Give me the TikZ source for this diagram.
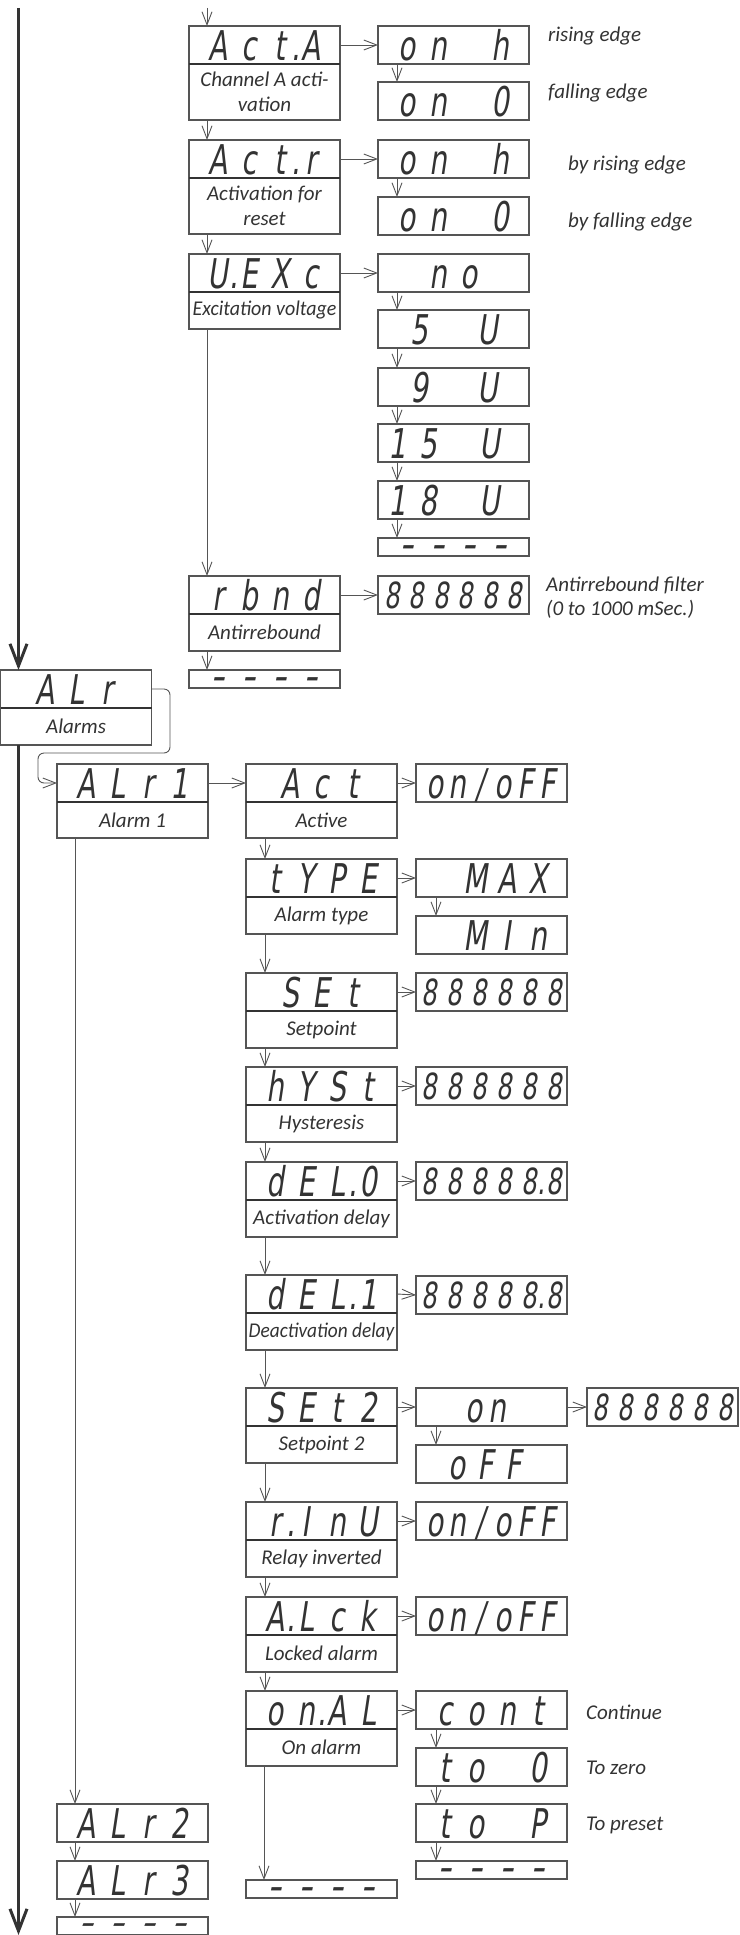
\documentclass[tikz,border=0pt]{standalone}
\usepackage{fontspec}
\setmainfont{Carlito}
\newfontfamily\segfont{DejaVu Sans}[FakeStretch=0.68,FakeSlant=0.15]
\usetikzlibrary{arrows.meta}
\definecolor{boxc}{HTML}{555555}
\definecolor{divc}{HTML}{333333}
\definecolor{arrc}{HTML}{555555}
\definecolor{segc}{HTML}{333333}
\definecolor{txtc}{HTML}{333333}
\newlength\segw
\def\segdx{1.4}
\makeatletter
\newcommand\segstr[1]{\seg@loop#1\relax}
\def\seg@loop#1{\ifx\relax#1\else\seg@char{#1}\expandafter\seg@loop\fi}
\def\seg@char#1{\if.#1\makebox[0pt][c]{.}\else\if*#1\hspace*{\segw}\else\if-#1\makebox[\segw][c]{\scalebox{\segdx}[1]{-}}\else\makebox[\segw][c]{#1}\fi\fi\fi}
\makeatother
% two-part box: [seg options]{name}{x}{y}{label height}{display text}{label}
\newcommand\dualbox[7][seg=31]{%
  \node[disp] (#2) at (#3,#4) {};
  \node[lab=#5pt] (#2l) at (#2.south west) {#7};
  \draw[divl] (#2.south west) -- (#2.south east);
  \node[#1] (#2t) at ([yshift=4pt]#2.south) {\segstr{#6}};}
% value box: [seg options]{name}{x}{y}{display text}
\newcommand\valbox[5][seg=31]{%
  \node[disp] (#2) at (#3,#4) {};
  \node[#1] (#2t) at ([yshift=4pt]#2.south) {\segstr{#5}};}
% end-of-list box: {name}{x}{y}
\newcommand\dshbox[3]{%
  \node[dashbox] (#1) at (#2,#3) {};
  \node[seg=31] (#1t) at ([yshift=-11pt]#1.center) {\segstr{----}};}
\newcommand\down[3]{\draw[arr] ([xshift=#3pt]#1.south west) -- ([xshift=#3pt]#2.north west);}
\begin{document}
\begin{tikzpicture}[x=1pt,y=-1pt,
  disp/.style={draw=boxc,line width=1.1pt,minimum width=151pt,minimum height=38pt,inner sep=0pt,outer sep=0pt,anchor=north west},
  dashbox/.style={disp,minimum height=18pt},
  lab/.style={draw=boxc,line width=1.1pt,minimum width=151pt,minimum height=#1,inner sep=0pt,outer sep=0pt,anchor=north west,font=\itshape\fontsize{21}{25}\selectfont,text=txtc,align=center},
  seg/.style={font=\segfont\fontsize{41}{41}\selectfont,text=segc,inner sep=0pt,anchor=base,execute at begin node={\setlength\segw{#1pt}}},
  segsix/.style={seg=#1,font=\segfont\fontsize{36}{36}\selectfont},
  segsmall/.style={seg=#1,font=\segfont\bfseries\fontsize{19}{19}\selectfont,execute at begin node={\def\segdx{2.7}}},
  note/.style={font=\itshape\fontsize{21}{24}\selectfont,text=txtc,inner sep=0pt,anchor=west,align=left},
  arr/.style={draw=arrc,line width=0.9pt,-{Straight Barb[length=13pt,width=10pt]}},
  mainarr/.style={draw=divc,line width=3pt,-{Straight Barb[length=22pt,width=17pt]}},
  divl/.style={draw=divc,line width=1.5pt}]
\useasboundingbox (0,0) rectangle (739,1935);
\coordinate (topin) at (207,8);
\coordinate (mtop) at (18.5,8);
\coordinate (mbot) at (18.5,1935);
% ---------- upper section
\dualbox{acta}{189}{26}{56}{Act.A}{Channel A acti-\\vation}
\dualbox{actr}{189}{140}{56}{Act.r}{Activation for\\reset}
\dualbox{uexc}{189}{254}{37}{U.EXc}{\scalebox{0.95}[1]{Excitation voltage}}
\dualbox{rbnd}{189}{576}{37}{rbnd}{Antirrebound}
\dshbox{dsha}{189}{670}
\valbox{ba}{378}{26}{on*h}
\valbox{bb}{378}{82}{on*0}
\valbox{bc}{378}{140}{on*h}
\valbox{bd}{378}{197}{on*0}
\valbox{be}{378}{254}{*no*}
\valbox[seg=34.5]{bf}{378}{310}{5*U}
\valbox[seg=34.5]{bg}{378}{368}{9*U}
\valbox[seg=31,xshift=-10pt]{bh}{378}{424}{15*U}
\valbox[seg=31,xshift=-10pt]{bi}{378}{481}{18*U}
\dshbox{bj}{378}{538}
\valbox[segsix=24.5,yshift=2pt]{bk}{378}{576}{888888}
\node[note] (na) at (548,36.5) {rising edge};
\node[note] (nb) at (548,93) {falling edge};
\node[note] (nc) at (568,165) {by rising edge};
\node[note] (nd) at (568,222.5) {by falling edge};
\node[note] (ne) at (546,598) {Antirrebound filter\\(0 to 1000 mSec.)};
\draw[arr] (topin) -- ([xshift=18pt]acta.north west);
\down{actal}{actr}{18}
\down{actrl}{uexc}{18}
\down{uexcl}{rbnd}{18}
\down{rbndl}{dsha}{18}
\draw[arr] (acta.east) -- (ba.west);
\draw[arr] (actr.east) -- (bc.west);
\draw[arr] (uexc.east) -- (be.west);
\draw[arr] (rbnd.east) -- (bk.west);
\down{ba}{bb}{19}
\down{bc}{bd}{19}
\down{be}{bf}{19}
\down{bf}{bg}{19}
\down{bg}{bh}{19}
\down{bh}{bi}{19}
\down{bi}{bj}{19}
% ---------- alarms
\dualbox[seg=31.5]{alr}{0.6}{670}{37}{ALr}{Alarms}
\dualbox{alri}{57}{764}{36}{ALr1}{Alarm 1}
\dualbox{act}{246}{764}{36}{Act}{Active}
\dualbox{type}{246}{859}{37}{tYPE}{Alarm type}
\dualbox{set}{246}{973}{37}{SEt}{Setpoint}
\dualbox{hyst}{246}{1067}{37}{hYSt}{Hysteresis}
\dualbox{dela}{246}{1162}{37}{dEL.0}{Activation delay}
\dualbox{delb}{246}{1275}{37}{dEL.1}{\scalebox{0.92}[1]{Deactivation delay}}
\dualbox{setb}{246}{1388}{37}{SEt2}{Setpoint 2}
\dualbox{rinv}{246}{1502}{37}{r.InU}{Relay inverted}
\dualbox{alck}{246}{1597}{37}{A.Lck}{Locked alarm}
\dualbox{onal}{246}{1691}{37}{on.AL}{On alarm}
\dshbox{dshc}{246}{1880}
\valbox[seg=22.5]{da}{416}{764}{on/oFF}
\valbox{db}{416}{859}{*MAX}
\valbox{dc}{416}{916}{*MIn}
\valbox[segsix=25,yshift=2pt]{dd}{416}{973}{888888}
\valbox[segsix=25,yshift=2pt]{de}{416}{1067}{888888}
\valbox[segsix=25,yshift=2pt]{df}{416}{1162}{88888.8}
\valbox[segsix=25,yshift=2pt]{dg}{416}{1276}{88888.8}
\valbox[seg=23,xshift=-6pt]{dh}{416}{1388}{on}
\valbox[seg=28,xshift=-6pt]{di}{416}{1445}{oFF}
\valbox[seg=22.5]{dj}{416}{1502}{on/oFF}
\valbox[seg=22.5]{dk}{416}{1597}{on/oFF}
\valbox{dl}{416}{1691}{cont}
\valbox{dm}{416}{1748}{to*0}
\valbox{dn}{416}{1804}{to*P}
\dshbox{do}{416}{1861}
\valbox[segsix=25,yshift=2pt]{ea}{587}{1388}{888888}
\valbox{alrb}{57}{1804}{ALr2}
\valbox{alrc}{57}{1861}{ALr3}
% last box, cut by the lower edge
\node[dashbox] (dshl) at (57,1917) {};
\node[segsmall=31] (dshlt) at ([yshift=-4pt]dshl.center) {\segstr{----}};
\node[note] (nf) at (586,1712) {Continue};
\node[note] (ng) at (586,1768) {To zero};
\node[note] (nh) at (586,1825) {To preset};
% main line
\draw[mainarr] (mtop) -- (mtop |- alr.north);
\draw[mainarr] (alrl.south -| mbot) -- (mbot);
% connectors
\draw[arr,rounded corners=6pt] (alr.east) -| (170,753) -- (38,753) |- (alri.west);
\draw[arr] (alri.east) -- (act.west);
\draw[arr] (act.east) -- (da.west);
\draw[arr] (type.east) -- (db.west);
\draw[arr] (set.east) -- (dd.west);
\draw[arr] (hyst.east) -- (de.west);
\draw[arr] (dela.east) -- (df.west);
\draw[arr] (delb.east) -- (dg.west);
\draw[arr] (setb.east) -- (dh.west);
\draw[arr] (dh.east) -- (ea.west);
\draw[arr] (rinv.east) -- (dj.west);
\draw[arr] (alck.east) -- (dk.west);
\draw[arr] (onal.east) -- (dl.west);
\down{actl}{type}{19}
\down{typel}{set}{19}
\down{setl}{hyst}{19}
\down{hystl}{dela}{19}
\down{delal}{delb}{19}
\down{delbl}{setb}{19}
\down{setbl}{rinv}{19}
\down{rinvl}{alck}{19}
\down{alckl}{onal}{19}
\down{onall}{dshc}{18}
\down{db}{dc}{20}
\down{dh}{di}{20}
\down{dl}{dm}{20}
\down{dm}{dn}{20}
\down{dn}{do}{20}
\down{alril}{alrb}{18}
\down{alrb}{alrc}{18}
\down{alrc}{dshl}{18}
\end{tikzpicture}
\end{document}
